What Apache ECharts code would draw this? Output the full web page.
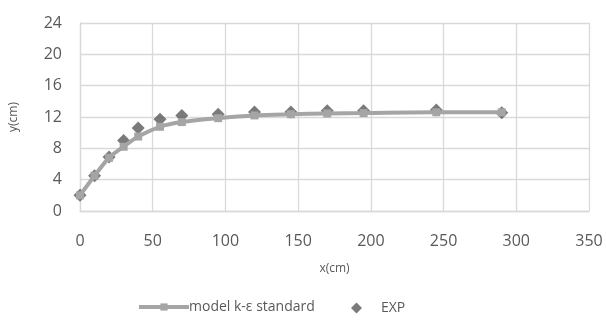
<!DOCTYPE html>
<html>
<head>
<meta charset="utf-8">
<script src="https://cdn.jsdelivr.net/npm/echarts@6/dist/echarts.min.js"></script>
<style>
  html, body { margin: 0; padding: 0; background: #fff; }
  #chart { width: 606px; height: 325px; }
</style>
</head>
<body>
<div id="chart"></div>
<script>
const modelX = [0, 10, 20, 30, 40, 55, 70, 95, 120, 145, 170, 195, 245, 290];
const modelY = [2, 4.5, 6.8, 8.2, 9.5, 10.75, 11.35, 11.85, 12.2, 12.35, 12.45, 12.5, 12.6, 12.6];
const expX = [0, 10, 20, 30, 40, 55, 70, 95, 120, 145, 170, 195, 245, 290];
const expY = [2, 4.5, 6.9, 9.0, 10.6, 11.7, 12.2, 12.35, 12.65, 12.65, 12.8, 12.8, 12.9, 12.55];

const font = "'Open Sans', sans-serif";
const textColor = "#595959";

const chart = echarts.init(document.getElementById("chart"));
chart.setOption({
  animation: false,
  grid: { left: 79, right: 17, top: 23, bottom: 114 },
  xAxis: {
    type: "value",
    min: 0,
    max: 350,
    interval: 50,
    name: "x(cm)",
    nameLocation: "middle",
    nameGap: 52,
    nameTextStyle: { color: textColor, fontSize: 12, fontFamily: font },
    axisLine: { show: true, lineStyle: { color: "#D9D9D9", width: 1.3 } },
    axisTick: { show: false },
    axisLabel: { color: textColor, fontSize: 16, fontFamily: font, margin: 22 },
    splitLine: { lineStyle: { color: "#D9D9D9", width: 1.3 } },
  },
  yAxis: {
    type: "value",
    min: 0,
    max: 24,
    interval: 4,
    name: "y(cm)",
    nameLocation: "middle",
    nameGap: 60,
    nameTextStyle: { color: textColor, fontSize: 12, fontFamily: font },
    axisLine: { show: true, lineStyle: { color: "#D9D9D9", width: 1.3 } },
    axisTick: { show: false },
    axisLabel: { color: textColor, fontSize: 16, fontFamily: font, margin: 18 },
    splitLine: { lineStyle: { color: "#D9D9D9", width: 1.3 } },
  },
  legend: [
    {
      data: ["model k-ε standard"],
      left: 132,
      top: 295,
      itemWidth: 50,
      itemHeight: 9,
      itemGap: 4,
      lineStyle: { width: 4 },
      textStyle: { color: textColor, fontSize: 14, fontFamily: font, padding: [0, 0, 0, -5] },
    },
    {
      data: [{ name: "EXP", icon: "diamond" }],
      left: 346,
      top: 296,
      itemWidth: 11,
      itemHeight: 11,
      textStyle: { color: textColor, fontSize: 14, fontFamily: font, padding: [0, 0, 0, 14] },
    },
  ],
  series: [
    {
      name: "model k-ε standard",
      type: "line",
      data: modelX.map((x, i) => [x, modelY[i]]),
      smooth: 0.3,
      symbol: "rect",
      symbolSize: 8,
      lineStyle: { color: "#A5A5A5", width: 4 },
      itemStyle: { color: "#A5A5A5" },
    },
    {
      name: "EXP",
      type: "scatter",
      data: expX.map((x, i) => [x, expY[i]]),
      symbol: "diamond",
      symbolSize: 13,
      itemStyle: { color: "#595959" },
    },
  ],
});
</script>
</body>
</html>
